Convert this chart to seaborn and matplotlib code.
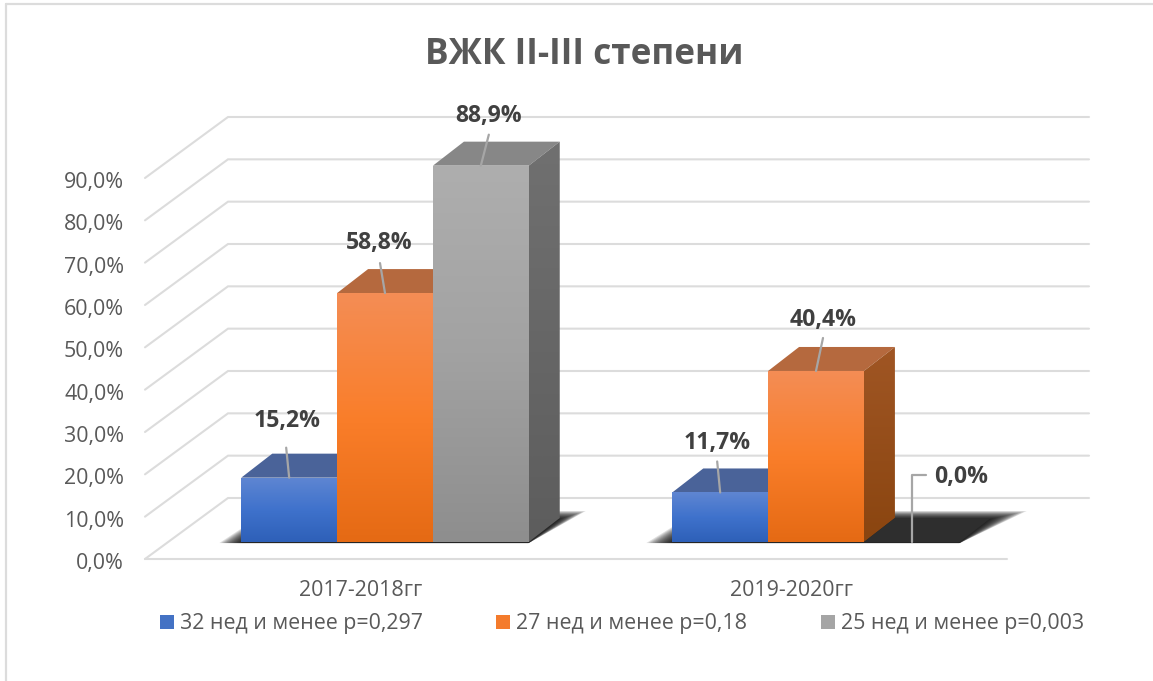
import numpy as np
import pandas as pd
import matplotlib
matplotlib.use('Agg')
import matplotlib.pyplot as plt
import seaborn as sns
from matplotlib.colors import LinearSegmentedColormap
from matplotlib.lines import Line2D
from matplotlib.patches import Polygon
from matplotlib.transforms import ScaledTranslation

# chart values
title = 'ВЖК II-III степени'
periods = ['2017-2018гг', '2019-2020гг']
series_names = ['32 нед и менее р=0,297', '27 нед и менее р=0,18', '25 нед и менее р=0,003']
weeks_32 = [15.2, 11.7]
weeks_27 = [58.8, 40.4]
weeks_25 = [88.9, 0.0]
y_ticks = [0, 10, 20, 30, 40, 50, 60, 70, 80, 90]

df = pd.DataFrame({
    'period': periods * 3,
    'series': [series_names[0]] * 2 + [series_names[1]] * 2 + [series_names[2]] * 2,
    'value': weeks_32 + weeks_27 + weeks_25,
})

W, H = 1153, 681
GRID = '#dcdcdc'
TEXT = '#595959'
LABEL = '#404040'
LEADER = '#a6a6a6'
palette = ['#4472c4', '#f47b2c', '#a5a5a5']
front_colors = [['#5f86d2', '#3f72cc', '#2e60b8'],
                ['#f48d55', '#fa7e2a', '#e56a14'],
                ['#aeaeae', '#a2a2a2', '#8e8e8e']]
side_colors = [['#3f5f9e', '#2f4f8e'], ['#a05624', '#8a4510'], ['#707070', '#5d5d5d']]
top_colors = ['#4a6399', '#b5693e', '#878787']

sns.set_theme(style='white')
plt.rcParams['font.family'] = ['Open Sans', 'DejaVu Sans']

PX_X = 431.0         # pixels for one category
PX_Y = 381.0 / 90    # pixels for one percent


def axes_box(left, right, y0, ytop):
    return [left / W, (H - y0) / H, (right - left) / W, (y0 - ytop) / H]


fig = plt.figure(figsize=(W / 100, H / 100), dpi=100, facecolor='white')

# outer frame of the pasted chart
fig.add_artist(Line2D([6 / W, 6 / W], [0, 1 - 4 / H], color=GRID, lw=1.6))
fig.add_artist(Line2D([6 / W, 1], [1 - 4 / H, 1 - 4 / H], color=GRID, lw=1.6))

# walls and floor: the tick axes sits on the front plane
wall = fig.add_axes(axes_box(145, 1007, 559, 178))
wall.set_xlim(-0.5, 1.5)
wall.set_ylim(0, 90)
wall.patch.set_alpha(0)
sns.despine(ax=wall, left=True, bottom=True)
wall.set_xticks(range(len(periods)))
wall.set_xticklabels(periods)
wall.set_yticks(y_ticks)
wall.set_yticklabels([f'{t:.1f}%'.replace('.', ',') for t in y_ticks])
wall.tick_params(axis='y', length=0, pad=15, labelsize=15.4, labelcolor=TEXT)
wall.tick_params(axis='x', length=0, pad=15, labelsize=15.4, labelcolor=TEXT)

# tick label font sits a little high, push it down 2px
nudge = ScaledTranslation(0, -2 / 100, fig.dpi_scale_trans)
for lab in wall.get_yticklabels():
    lab.set_transform(lab.get_transform() + nudge)

back_dx = 83 / PX_X
back_dy = 61 / PX_Y
back_end = -0.5 + (1089 - 145) / PX_X
for t in y_ticks:
    wall.plot([-0.5, -0.5 + back_dx, back_end], [t, t + back_dy, t + back_dy],
              color=GRID, lw=1.5, clip_on=False, solid_joinstyle='miter')
wall.plot([-0.5, 1.5], [0, 0], color=GRID, lw=1.5, clip_on=False)

# bars: same scale, moved into the depth of the floor
ax = fig.add_axes(axes_box(169.5, 1031.5, 542, 542 - 110 * PX_Y))
ax.patch.set_alpha(0)
sns.barplot(data=df, x='period', y='value', hue='series', order=periods,
            hue_order=series_names, palette=palette, width=0.667, gap=0,
            saturation=1, linewidth=0, ax=ax)
ax.set_xlim(-0.5, 1.5)
ax.set_ylim(0, 110)

DX = 31 / PX_X
DY = 24 / PX_Y


def gradient(verts, colors, zorder):
    verts = np.array(verts)
    cmap = LinearSegmentedColormap.from_list('g', colors)
    box = (verts[:, 0].min(), verts[:, 0].max(), verts[:, 1].min(), verts[:, 1].max())
    im = ax.imshow(np.linspace(0, 1, 128).reshape(-1, 1), cmap=cmap, aspect='auto',
                   extent=box, zorder=zorder, interpolation='bilinear')
    im.set_clip_path(Polygon(verts, transform=ax.transData))


def shadow(x0, x1, spread_l, spread_r):
    # soft floor shadow behind a bar group, many thin layers fade the edge
    n = 14
    for i in range(n):
        k = i / (n - 1)
        sl = spread_l * (1 - k) / PX_X
        sr = spread_r * (1 - k) / PX_X
        up = (31 - 8 * k) / PX_Y
        ax.add_patch(Polygon([(x0 - sl, -0.25), (x1, -0.25),
                              (x1 + DX + sr, up), (x0 + DX - sl * 0.2, up)],
                             closed=True, fc='black', ec='none', alpha=0.12,
                             zorder=1, clip_on=False))


bars = [c.patches for c in ax.containers]
shadow(bars[0][0].get_x(), bars[2][0].get_x() + bars[2][0].get_width(), 22, 26)
shadow(bars[0][1].get_x(), bars[2][1].get_x() + bars[2][1].get_width(), 26, 36)

z = 3
for g in range(len(periods)):
    for s in range(len(series_names)):
        p = bars[s][g]
        x0, x1 = p.get_x(), p.get_x() + p.get_width()
        h = p.get_height()
        top_col = top_colors[s] if h > 0 else '#2e2e2e'
        ax.add_patch(Polygon([(x0, h), (x1, h), (x1 + DX, h + DY), (x0 + DX, h + DY)],
                             closed=True, fc=top_col, ec='none', zorder=z, clip_on=False))
        if h > 0:
            gradient([(x1, 0), (x1 + DX, DY), (x1 + DX, h + DY), (x1, h)], side_colors[s], z + 0.1)
            p.set_zorder(z + 0.2)
            gradient([(x0, 0), (x1, 0), (x1, h), (x0, h)], front_colors[s], z + 0.3)
        z += 1

# data labels with leader lines, offsets in pixels from the top of the bar
label_off = [[(-2, 57), (-3, 49)], [(-6, 50), (7, 51)], [(8, 50), (49, 65)]]
leader_off = [[(-3, 30), (-3, 31)], [(-5, 30), (7, 33)], [(8, 31), None]]
values = [weeks_32, weeks_27, weeks_25]
for s in range(len(series_names)):
    for g in range(len(periods)):
        p = bars[s][g]
        cx = p.get_x() + p.get_width() / 2
        h = p.get_height()
        lab = f'{values[s][g]:.1f}%'.replace('.', ',')
        ax.annotate(lab, (cx, h), xytext=label_off[s][g], textcoords='offset pixels',
                    ha='center', va='center', fontsize=16.6, fontweight='bold',
                    color=LABEL, zorder=60, annotation_clip=False)
        end = leader_off[s][g]
        if end is not None:
            xs = [cx, cx + end[0] / PX_X]
            ys = [h, h + end[1] / PX_Y]
        else:
            xs = [cx, cx, cx + 14 / PX_X]
            ys = [h, h + 67 / PX_Y, h + 67 / PX_Y]
        ax.plot(xs, ys, color=LEADER, lw=1.6, zorder=50, clip_on=False)

ax.set_xlim(-0.5, 1.5)
ax.set_ylim(0, 110)
ax.axis('off')

handles, labels = ax.get_legend_handles_labels()
ax.legend(handles, labels, loc='center', ncol=3, frameon=False,
          bbox_to_anchor=(622 / W, (H - 624) / H), bbox_transform=fig.transFigure,
          fontsize=15.4, labelcolor=TEXT, handlelength=0.65, handleheight=0.65,
          handletextpad=0.28, columnspacing=3.45, borderpad=0, borderaxespad=0)

fig.text(584 / W, 1 - 55 / H, title, ha='center', va='center', fontsize=25.3,
         fontweight='bold', color=TEXT)

fig.savefig('out.png', dpi=100)
